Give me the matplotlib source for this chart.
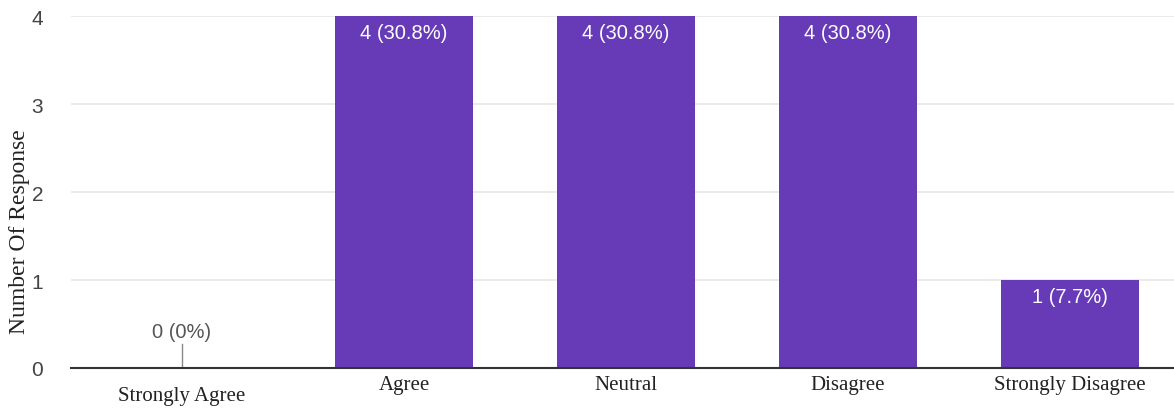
import matplotlib.pyplot as plt

categories = ["Strongly Agree", "Agree", "Neutral", "Disagree", "Strongly Disagree"]
counts = [0, 4, 4, 4, 1]
percents = ["0%", "30.8%", "30.8%", "30.8%", "7.7%"]

fig = plt.figure(figsize=(11.74, 4.10), dpi=100)
ax = fig.add_axes([0.0605, 0.1, 0.9455, 0.8585])

x = range(len(categories))
ax.bar(x, counts, width=0.62, color="#673ab7", zorder=2)

for i, (c, p) in enumerate(zip(counts, percents)):
    label = f"{c} ({p})"
    if c == 0:
        # empty bar: small stem with the label above it
        ax.plot([i, i], [0, 0.27], color="#888888", lw=1, zorder=3)
        ax.text(i, 0.31, label, ha="center", va="bottom", color="#555555",
                fontsize=14.5, family="Liberation Sans")
    else:
        ax.text(i, c - 0.08, label, ha="center", va="top", color="white",
                fontsize=14.5, family="Liberation Sans")

ax.set_xlim(-0.5, 4.5)
ax.set_ylim(0, 4)
ax.set_yticks([0, 1, 2, 3, 4])
ax.set_xticks(list(x))
ax.set_xticklabels(categories, family="Liberation Serif", fontsize=15, color="#222222")
ax.tick_params(axis="x", length=0, pad=5)
ax.tick_params(axis="y", length=0, pad=20, labelsize=15, labelcolor="#444444")
for t in ax.get_yticklabels():
    t.set_family("Liberation Sans")
# first label sits a bit lower
ax.get_xticklabels()[0].set_y(-0.03)

ax.grid(axis="y", color="#e8e8e8", lw=1.2, zorder=0)
for s in ["top", "right", "left"]:
    ax.spines[s].set_visible(False)
ax.spines["bottom"].set_color("#333333")
ax.spines["bottom"].set_linewidth(1.5)
ax.spines["bottom"].set_zorder(4)

ax.set_ylabel("Number Of Response", family="Liberation Serif", fontsize=17, color="#222222")
ax.yaxis.set_label_coords(-0.037, 0.39)

fig.savefig("out.png", dpi=100)
